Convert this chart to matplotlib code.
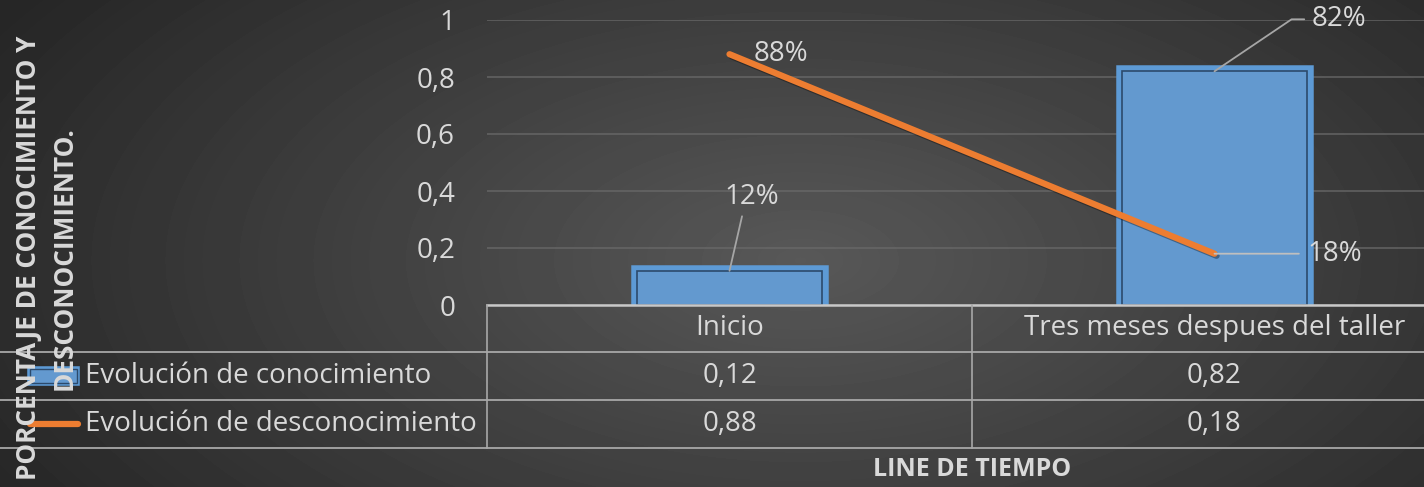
import numpy as np
import matplotlib
matplotlib.use("Agg")
import matplotlib.pyplot as plt
import matplotlib.patheffects as pe
from matplotlib.lines import Line2D
from matplotlib.patches import Rectangle
from matplotlib.transforms import blended_transform_factory

plt.rcParams['font.family'] = ['Open Sans', 'DejaVu Sans']

categories = ["Inicio", "Tres meses despues del taller"]
conocimiento = [0.12, 0.82]
desconocimiento = [0.88, 0.18]
series_names = ["Evolución de conocimiento", "Evolución de desconocimiento"]
y_ticks = [0, 0.2, 0.4, 0.6, 0.8, 1]
y_title = "PORCENTAJE DE CONOCIMIENTO Y\nDESCONOCIMIENTO."
x_title = "LINE DE TIEMPO"

W, H = 1424, 487
TXT = '#d9d9d9'
BLUE = '#6399cf'
BLUE_EDGE = '#5d9ad5'
ORANGE = '#ed7d31'
LEADER = '#a6a6a6'


def fmt(v):
    return ('%g' % v).replace('.', ',')


fig = plt.figure(figsize=(W / 100, H / 100), dpi=100)

# dark radial background
bg = fig.add_axes([0, 0, 1, 1], zorder=-10)
yy, xx = np.mgrid[0:H, 0:W]
r = np.sqrt(((xx - 800) / 900) ** 2 + ((yy - 260) / 460) ** 2)
shade = np.clip(0.345 - 0.19 * r, 0.15, 0.35)
bg.imshow(shade, cmap='gray', vmin=0, vmax=1, aspect='auto', extent=[0, 1, 0, 1])
bg.axis('off')

# overlay in pixel coords for table / titles
ov = fig.add_axes([0, 0, 1, 1], zorder=5)
ov.set_xlim(0, W)
ov.set_ylim(H, 0)
ov.axis('off')
ov.patch.set_alpha(0)

ax = fig.add_axes([487 / W, 1 - 305 / H, 970 / W, (305 - 20) / H], zorder=2)
ax.patch.set_alpha(0)
x = np.arange(len(categories))
ax.set_xlim(-0.5, 1.5)
ax.set_ylim(0, 1)
ax.set_yticks(y_ticks)
ax.set_yticklabels([fmt(t) for t in y_ticks])
ax.tick_params(axis='y', length=0, pad=23, labelsize=20, labelcolor=TXT)
ax.set_xticks([])
ax.yaxis.grid(True, color='#6a6a6a', lw=1.2, alpha=0.8)
ax.set_axisbelow(True)
for s in ax.spines.values():
    s.set_visible(False)

bars = ax.bar(x, conocimiento, width=0.38, color=BLUE, edgecolor='#2c4a6c',
              linewidth=1.2, zorder=2)
for b in bars:
    b.set_path_effects([pe.Stroke(linewidth=9, foreground=BLUE_EDGE), pe.Normal()])

ax.plot(x, desconocimiento, color=ORANGE, lw=4.5, solid_capstyle='round', zorder=3,
        path_effects=[pe.SimpleLineShadow(offset=(1.5, -1.5), alpha=0.35), pe.Normal()])

# data labels
lab_kw = dict(textcoords='offset pixels', fontsize=20, color=TXT, ha='center', va='center', zorder=4)
ax.annotate('%d%%' % round(conocimiento[0] * 100), (x[0], conocimiento[0]), xytext=(22, 74),
            arrowprops=dict(arrowstyle='-', color=LEADER, lw=1.3, shrinkA=2, shrinkB=0,
                            relpos=(0.35, 0.0)), **lab_kw)
ax.annotate('%d%%' % round(conocimiento[1] * 100), (x[1], conocimiento[1]), xytext=(124, 52),
            arrowprops=dict(arrowstyle='-', color=LEADER, lw=1.3, shrinkA=3, shrinkB=0,
                            relpos=(0.0, 0.5), connectionstyle='angle,angleA=0,angleB=34,rad=0'),
            **lab_kw)
ax.annotate('%d%%' % round(desconocimiento[0] * 100), (x[0], desconocimiento[0]), xytext=(51, 0),
            **lab_kw)
ax.annotate('%d%%' % round(desconocimiento[1] * 100), (x[1], desconocimiento[1]), xytext=(120, 0),
            arrowprops=dict(arrowstyle='-', color='#bfbfbf', lw=1.3, shrinkA=4, shrinkB=0,
                            relpos=(0.0, 0.5)), **lab_kw)

# data table
LINE = '#a8a8a8'
ov.add_line(Line2D([487, W], [305, 305], color='#c8c8c8', lw=1.8))
for yl in [352, 400, 448]:
    ov.add_line(Line2D([0, W], [yl, yl], color=LINE, lw=1.3))
bt = blended_transform_factory(ax.transData, ov.transData)
for xb in [-0.5, 0.5]:
    ov.add_line(Line2D([xb, xb], [305, 448], color=LINE, lw=1.2, transform=bt))

for i, cat in enumerate(categories):
    ov.text(x[i], 328, cat, transform=bt, ha='center', va='center', fontsize=20, color=TXT)
    ov.text(x[i], 376, fmt(conocimiento[i]), transform=bt, ha='center', va='center',
            fontsize=20, color=TXT)
    ov.text(x[i], 424, fmt(desconocimiento[i]), transform=bt, ha='center', va='center',
            fontsize=20, color=TXT)

ov.text(85, 376, series_names[0], ha='left', va='center', fontsize=20, color=TXT)
ov.text(85, 424, series_names[1], ha='left', va='center', fontsize=20, color=TXT)

# legend keys
key = Rectangle((30, 369), 47, 14, facecolor=BLUE, edgecolor='#2c4a6c', lw=1.0)
key.set_path_effects([pe.Stroke(linewidth=4, foreground=BLUE_EDGE), pe.Normal()])
ov.add_patch(key)
ov.add_line(Line2D([30, 78], [424, 424], color=ORANGE, lw=4.5, solid_capstyle='round'))

# axis titles
ov.text(0.5, 470, x_title, transform=bt, ha='center', va='center', fontsize=18,
        fontweight='bold', color=TXT)
ov.text(46, 258, y_title, rotation=90, ha='center', va='center', multialignment='center',
        fontsize=18.8, fontweight='bold', color=TXT, linespacing=1.4, zorder=10)

fig.savefig('out.png', dpi=100, facecolor='#333333')
